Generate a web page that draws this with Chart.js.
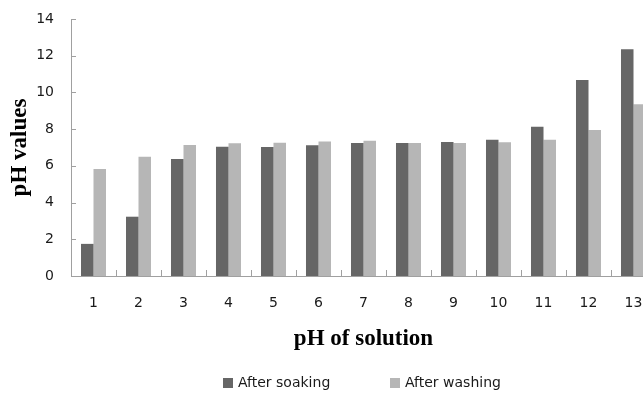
<!DOCTYPE html>
<html>
<head>
<meta charset="utf-8">
<script src="https://cdn.jsdelivr.net/npm/chart.js@4/dist/chart.umd.min.js"></script>
<style>
  html, body { margin: 0; padding: 0; background: #fff; overflow: hidden; width: 643px; height: 393px; }
  #c { display: block; }
</style>
</head>
<body>
<canvas id="c" width="656" height="393" style="width:656px;height:393px"></canvas>
<script>
// ---- data ----
const categories = ["1","2","3","4","5","6","7","8","9","10","11","12","13"];
const afterSoaking = [1.75, 3.23, 6.37, 7.04, 7.03, 7.12, 7.24, 7.24, 7.30, 7.42, 8.13, 10.68, 12.35];
const afterWashing = [5.83, 6.50, 7.13, 7.23, 7.26, 7.33, 7.37, 7.24, 7.24, 7.28, 7.42, 7.95, 9.35];
const seriesNames = ["After soaking", "After washing"];
const yTicks = [0, 2, 4, 6, 8, 10, 12, 14];

const axisColor = '#a0a0a0';
const tickFont = { family: 'DejaVu Sans', size: 14 };
const titleFont = { family: 'Liberation Serif', size: 23, weight: 'bold' };

// inside tick marks (Excel style)
const insideTicks = {
  id: 'insideTicks',
  afterDatasetsDraw(chart) {
    const { ctx, chartArea, scales } = chart;
    ctx.save();
    ctx.strokeStyle = axisColor;
    ctx.lineWidth = 1;
    const ys = scales.y;
    ys.ticks.forEach((t, i) => {
      const py = Math.round(ys.getPixelForTick(i)) + 0.5;
      ctx.beginPath();
      ctx.moveTo(chartArea.left, py);
      ctx.lineTo(chartArea.left + 5, py);
      ctx.stroke();
    });
    const xs = scales.x;
    const n = xs.ticks.length;
    for (let i = 0; i <= n; i++) {
      const px = Math.round(xs.getPixelForValue(i - 0.5)) + 0.5;
      ctx.beginPath();
      ctx.moveTo(px, chartArea.bottom);
      ctx.lineTo(px, chartArea.bottom - 6);
      ctx.stroke();
    }
    ctx.restore();
  }
};

// legend drawn at bottom like the original
const legendX = [223, 390];
const legendY = 383;
const customLegend = {
  id: 'customLegend',
  afterDraw(chart) {
    const { ctx } = chart;
    ctx.save();
    ctx.font = '14px "DejaVu Sans"';
    ctx.textBaseline = 'middle';
    ctx.textAlign = 'left';
    chart.data.datasets.forEach((ds, i) => {
      ctx.fillStyle = ds.backgroundColor;
      ctx.fillRect(legendX[i], legendY - 5, 10, 10);
      ctx.fillStyle = '#1a1a1a';
      ctx.fillText(ds.label, legendX[i] + 15, legendY);
    });
    ctx.restore();
  }
};

new Chart(document.getElementById('c'), {
  type: 'bar',
  data: {
    labels: categories,
    datasets: [
      { label: seriesNames[0], data: afterSoaking, backgroundColor: '#666666', borderWidth: 0 },
      { label: seriesNames[1], data: afterWashing, backgroundColor: '#b6b6b6', borderWidth: 0 }
    ]
  },
  options: {
    responsive: false,
    animation: false,
    devicePixelRatio: 1,
    layout: { padding: { top: 19, right: 0, left: 0, bottom: 0 } },
    plugins: { legend: { display: false }, tooltip: { enabled: false } },
    datasets: { bar: { categoryPercentage: 0.556, barPercentage: 1.0 } },
    scales: {
      x: {
        grid: { display: false, drawTicks: false },
        border: { display: true, color: axisColor, width: 1 },
        ticks: { font: tickFont, color: '#1a1a1a', padding: 19, maxRotation: 0, autoSkip: false },
        title: { display: true, text: 'pH of solution', font: titleFont, color: '#000', padding: { top: 0, bottom: 40 } },
        afterFit(scale) { scale.height = 117; scale.paddingLeft = 0; scale.paddingRight = 0; }
      },
      y: {
        min: 0, max: 14,
        afterBuildTicks(scale) { scale.ticks = yTicks.map(v => ({ value: v })); },
        grid: { display: false, drawTicks: false },
        border: { display: true, color: axisColor, width: 1 },
        ticks: { font: tickFont, color: '#1a1a1a', padding: 17 },
        title: { display: true, text: 'pH values', font: titleFont, color: '#000', padding: { top: 6, bottom: 0 } },
        afterFit(scale) { scale.width = 71; scale.paddingTop = 0; scale.paddingBottom = 0; }
      }
    }
  },
  plugins: [insideTicks, customLegend]
});
</script>
</body>
</html>
